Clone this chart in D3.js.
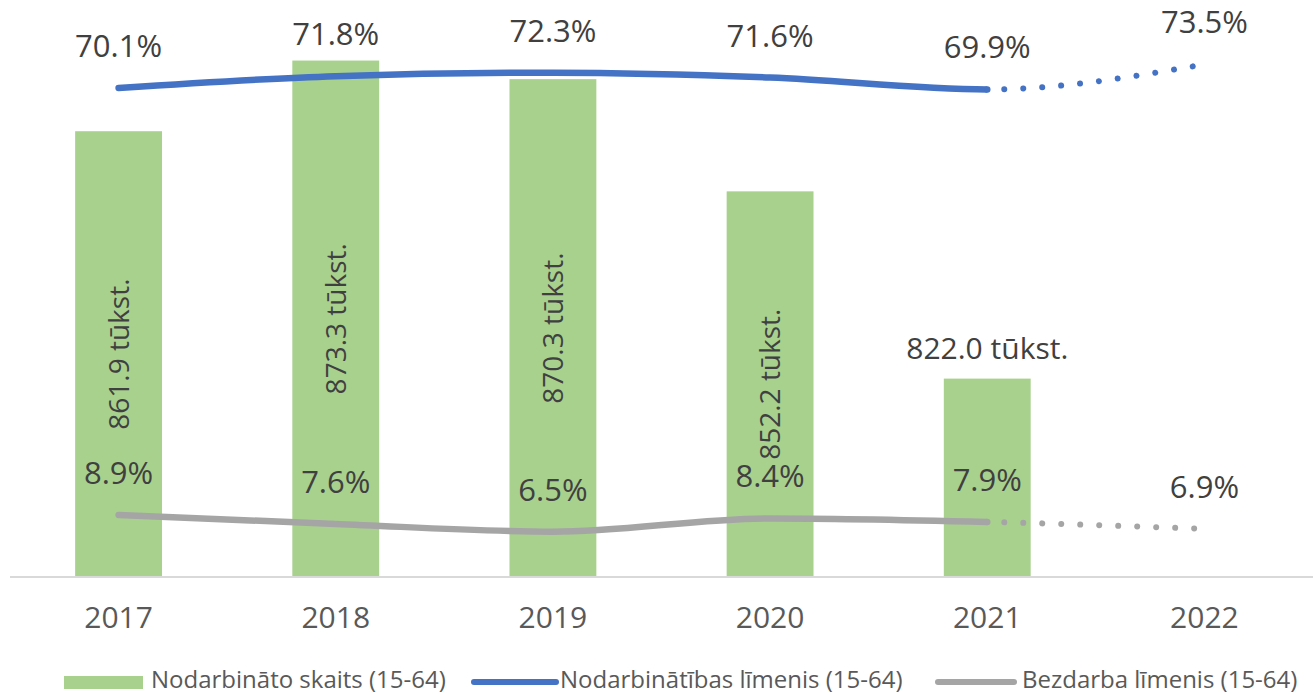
<!DOCTYPE html>
<html>
<head>
<meta charset="utf-8">
<script src="https://cdn.jsdelivr.net/npm/d3@7"></script>
<style>
	body { margin: 0; background: #fff; }
	svg { display: block; font-family: 'Open Sans', 'Noto Sans', sans-serif; }
</style>
</head>
<body>
<div id="chart"></div>
<script>
// Chart data
const years = [ '2017', '2018', '2019', '2020', '2021', '2022' ];
const employedCount = [ 861.9, 873.3, 870.3, 852.2, 822.0, null ];
const employmentRate = [ 70.1, 71.8, 72.3, 71.6, 69.9, 73.5 ];
const unemploymentRate = [ 8.9, 7.6, 6.5, 8.4, 7.9, 6.9 ];
const legendLabels = [ 'Nodarbināto skaits (15-64)', 'Nodarbinātības līmenis (15-64)', 'Bezdarba līmenis (15-64)' ];
const lastActualIndex = 4;

const width = 1313;
const height = 694;
const colors = { bar: '#A9D18E', emp: '#4472C4', unemp: '#A5A5A5' };

const svg = d3.select( '#chart' )
	.append( 'svg' )
	.attr( 'width', width )
	.attr( 'height', height );

const x = d3.scaleBand()
	.domain( years )
	.range( [ 10, 1313 ] )
	.padding( 0 );

const yBar = d3.scaleLinear()
	.domain( [ 790, 880 ] )
	.range( [ 577, 19 ] );

const yRate = d3.scaleLinear()
	.domain( [ 0, 80 ] )
	.range( [ 577, 19 ] );

const cx = ( i ) => x( years[ i ] ) + x.bandwidth() / 2;
const barW = x.bandwidth() * 0.4;

// Bars
const barData = employedCount
	.map( ( v, i ) => ( { year: years[ i ], v, i } ) )
	.filter( ( d ) => d.v !== null );

svg.selectAll( 'rect.bar' )
	.data( barData )
	.enter()
	.append( 'rect' )
	.attr( 'class', 'bar' )
	.attr( 'x', ( d ) => cx( d.i ) - barW / 2 )
	.attr( 'y', ( d ) => yBar( d.v ) )
	.attr( 'width', barW )
	.attr( 'height', ( d ) => yBar.range()[ 0 ] - yBar( d.v ) )
	.attr( 'fill', colors.bar );

// Axis line
svg.append( 'line' )
	.attr( 'x1', 10 )
	.attr( 'x2', width )
	.attr( 'y1', 577 )
	.attr( 'y2', 577 )
	.attr( 'stroke', '#D9D9D9' )
	.attr( 'stroke-width', 2 );

// Year labels
svg.selectAll( 'text.year' )
	.data( years )
	.enter()
	.append( 'text' )
	.attr( 'class', 'year' )
	.attr( 'x', ( d, i ) => cx( i ) )
	.attr( 'y', 628 )
	.attr( 'text-anchor', 'middle' )
	.style( 'font-size', '30px' )
	.style( 'fill', '#595959' )
	.text( ( d ) => d );

// Bar value labels
svg.selectAll( 'text.bar-label' )
	.data( barData )
	.enter()
	.append( 'text' )
	.attr( 'class', 'bar-label' )
	.attr( 'transform', ( d ) => {
		if ( d.i === lastActualIndex ) {
			return `translate(${ cx( d.i ) }, ${ yBar( d.v ) - 20 })`;
		}
		const mid = ( yBar( d.v ) + yBar.range()[ 0 ] ) / 2;
		return `translate(${ cx( d.i ) }, ${ mid }) rotate(-90)`;
	} )
	.attr( 'dy', ( d ) => ( d.i === lastActualIndex ? 0 : '0.36em' ) )
	.attr( 'text-anchor', 'middle' )
	.style( 'font-size', ( d ) => ( d.i === lastActualIndex ? '30px' : '28px' ) )
	.style( 'fill', '#404040' )
	.text( ( d ) => `${ d.v.toFixed( 1 ) } tūkst.` );

// Rate lines: solid for actual years, dotted for forecast
const clipX = cx( lastActualIndex );
const defs = svg.append( 'defs' );
defs.append( 'clipPath' ).attr( 'id', 'clip-solid' )
	.append( 'rect' ).attr( 'x', 0 ).attr( 'y', 0 ).attr( 'width', clipX ).attr( 'height', height );
defs.append( 'clipPath' ).attr( 'id', 'clip-dots' )
	.append( 'rect' ).attr( 'x', clipX + 8 ).attr( 'y', 0 ).attr( 'width', width ).attr( 'height', height );

function drawRate( values, color ) {
	const line = d3.line()
		.x( ( d, i ) => cx( i ) )
		.y( ( d ) => yRate( d ) )
		.curve( d3.curveMonotoneX );
	const d = line( values );

	svg.append( 'path' )
		.attr( 'd', d )
		.attr( 'fill', 'none' )
		.attr( 'stroke', color )
		.attr( 'stroke-width', 6.5 )
		.attr( 'stroke-linecap', 'round' )
		.attr( 'clip-path', 'url(#clip-solid)' );

	// round cap at the end of the solid part
	svg.append( 'circle' )
		.attr( 'cx', clipX )
		.attr( 'cy', yRate( values[ lastActualIndex ] ) )
		.attr( 'r', 3.25 )
		.attr( 'fill', color );

	const dots = svg.append( 'path' )
		.attr( 'd', d )
		.attr( 'fill', 'none' )
		.attr( 'stroke', color )
		.attr( 'stroke-width', 6 )
		.attr( 'stroke-linecap', 'round' )
		.attr( 'clip-path', 'url(#clip-dots)' );

	// start the dot pattern just after the last actual point
	const node = dots.node();
	const total = node.getTotalLength();
	let lo = 0;
	let hi = total;
	for ( let k = 0; k < 40; k++ ) {
		const mid = ( lo + hi ) / 2;
		if ( node.getPointAtLength( mid ).x < clipX ) {
			lo = mid;
		} else {
			hi = mid;
		}
	}
	const period = 19;
	const start = lo + 17;
	dots.attr( 'stroke-dasharray', `0.01 ${ period - 0.01 }` )
		.attr( 'stroke-dashoffset', period - ( start % period ) );

	return line;
}

drawRate( employmentRate, colors.emp );
drawRate( unemploymentRate, colors.unemp );

// Rate labels
function rateLabels( values, cls ) {
	svg.selectAll( `text.${ cls }` )
		.data( values )
		.enter()
		.append( 'text' )
		.attr( 'class', cls )
		.attr( 'x', ( d, i ) => cx( i ) )
		.attr( 'y', ( d ) => yRate( d ) - 31 )
		.attr( 'text-anchor', 'middle' )
		.style( 'font-size', '31px' )
		.style( 'fill', '#404040' )
		.text( ( d ) => `${ d.toFixed( 1 ) }%` );
}

rateLabels( employmentRate, 'emp-label' );
rateLabels( unemploymentRate, 'unemp-label' );

// Legend
const legend = svg.append( 'g' ).attr( 'class', 'legend' );
const legendY = 682;

legend.append( 'rect' )
	.attr( 'x', 64 )
	.attr( 'y', legendY - 6 )
	.attr( 'width', 79 )
	.attr( 'height', 13 )
	.attr( 'fill', colors.bar );

legend.append( 'line' )
	.attr( 'x1', 474 ).attr( 'x2', 556 )
	.attr( 'y1', legendY ).attr( 'y2', legendY )
	.attr( 'stroke', colors.emp )
	.attr( 'stroke-width', 6 )
	.attr( 'stroke-linecap', 'round' );

legend.append( 'line' )
	.attr( 'x1', 938 ).attr( 'x2', 1014 )
	.attr( 'y1', legendY ).attr( 'y2', legendY )
	.attr( 'stroke', colors.unemp )
	.attr( 'stroke-width', 6 )
	.attr( 'stroke-linecap', 'round' );

const legendTextX = [ 151, 560, 1022 ];
legend.selectAll( 'text' )
	.data( legendLabels )
	.enter()
	.append( 'text' )
	.attr( 'x', ( d, i ) => legendTextX[ i ] )
	.attr( 'y', legendY + 6 )
	.style( 'font-size', '24px' )
	.style( 'fill', '#595959' )
	.text( ( d ) => d );
</script>
</body>
</html>
